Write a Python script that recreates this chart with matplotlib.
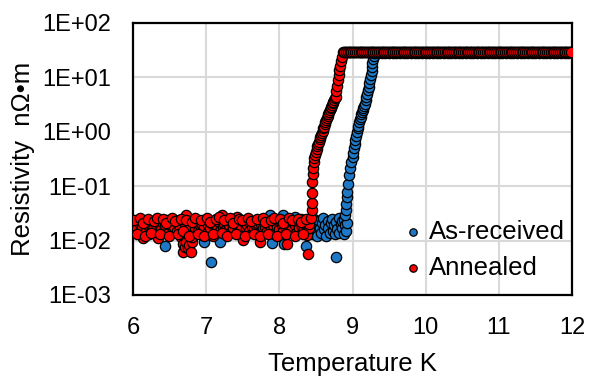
import matplotlib
matplotlib.use("Agg")
import matplotlib.pyplot as plt
from matplotlib.ticker import FixedLocator, FuncFormatter, NullLocator

# ---------------- data ----------------
series_names = ["As-received", "Annealed"]
series_colors = ["#1f78c6", "#ff0000"]

# As-received, low-temperature (superconducting) state
asrec_low_T = [6.00, 6.04, 6.08, 6.12, 6.16, 6.20, 6.24, 6.28, 6.32, 6.36,
               6.40, 6.44, 6.48, 6.52, 6.56, 6.60, 6.64, 6.68, 6.72, 6.76,
               6.80, 6.84, 6.88, 6.92, 6.97, 7.00, 7.06, 7.08, 7.12, 7.16,
               7.19, 7.24, 7.28, 7.32, 7.36, 7.40, 7.44, 7.48, 7.52, 7.56,
               7.60, 7.64, 7.68, 7.72, 7.76, 7.80, 7.84, 7.87, 7.90, 7.94,
               7.98, 8.02, 8.05, 8.07, 8.10, 8.14, 8.18, 8.22, 8.26, 8.30,
               8.34, 8.37, 8.40,
               8.42, 8.43, 8.45, 8.46, 8.48, 8.49, 8.51, 8.52, 8.54, 8.55,
               8.57, 8.58, 8.60, 8.61, 8.63, 8.64, 8.66, 8.67, 8.69, 8.70,
               8.72, 8.73, 8.75, 8.76, 8.77, 8.78, 8.79, 8.81, 8.82, 8.84,
               8.85, 8.86, 8.88, 8.89, 8.90, 8.91, 8.92]
asrec_low_R = [0.018, 0.020, 0.016, 0.019, 0.021, 0.017, 0.019, 0.015, 0.020, 0.018,
               0.021, 0.0079, 0.017, 0.020, 0.016, 0.019, 0.021, 0.018, 0.015, 0.020,
               0.017, 0.019, 0.021, 0.016, 0.0093, 0.019, 0.0041, 0.020, 0.017, 0.019,
               0.0093, 0.021, 0.016, 0.019, 0.022, 0.017, 0.019, 0.021, 0.016, 0.020,
               0.018, 0.021, 0.017, 0.019, 0.022, 0.018, 0.020, 0.029, 0.0091, 0.019,
               0.021, 0.018, 0.029, 0.0085, 0.020, 0.024, 0.019, 0.027, 0.020, 0.025,
               0.018, 0.0079, 0.023,
               0.016, 0.022, 0.013, 0.019, 0.025, 0.015, 0.020, 0.012, 0.023, 0.017,
               0.014, 0.021, 0.026, 0.016, 0.019, 0.012, 0.023, 0.017, 0.014, 0.021,
               0.025, 0.015, 0.019, 0.013, 0.0050, 0.022, 0.016, 0.026, 0.014, 0.020,
               0.017, 0.023, 0.013, 0.024, 0.019, 0.015, 0.021]

# As-received, transition
asrec_tr_T = [8.90, 8.91, 8.91, 8.92, 8.93, 8.94, 8.95, 8.96, 8.98,
              9.00, 9.01, 9.02, 9.03, 9.04, 9.05, 9.06, 9.07, 9.08, 9.09,
              9.10, 9.11, 9.12, 9.13, 9.14, 9.15, 9.16, 9.17, 9.18, 9.19,
              9.20, 9.21, 9.22, 9.23, 9.24, 9.25, 9.26, 9.265, 9.27, 9.28, 9.29]
asrec_tr_R = [0.030, 0.037, 0.048, 0.062, 0.079, 0.11, 0.16, 0.22, 0.28,
              0.34, 0.41, 0.50, 0.60, 0.72, 0.85, 1.0, 1.15, 1.3, 1.5,
              1.7, 1.9, 2.1, 2.3, 2.5, 2.7, 2.95, 3.3, 3.8, 4.4,
              5.0, 5.8, 6.7, 7.9, 9.3, 11.0, 13.0, 15.5, 18.5, 22.0, 25.0]

# As-received, normal state
asrec_norm_T = [9.30, 9.35, 9.40, 9.45, 9.50, 9.55, 9.60, 9.65, 9.70, 9.75,
                9.80, 9.85, 9.90, 9.95, 10.00, 10.05, 10.10, 10.15, 10.20, 10.25,
                10.30, 10.35, 10.40, 10.45, 10.50, 10.55, 10.60, 10.65, 10.70, 10.75,
                10.80, 10.85, 10.90, 10.95, 11.00, 11.05, 11.10, 11.15, 11.20, 11.25,
                11.30, 11.35, 11.40, 11.45, 11.50, 11.55, 11.60, 11.65, 11.70, 11.75,
                11.80, 11.85, 11.90, 11.95, 12.00]
asrec_norm_R = [27.8, 27.7, 27.9, 27.8, 27.6, 28.0, 27.8, 27.7, 27.9, 27.8,
                27.7, 27.9, 27.8, 28.0, 27.6, 27.8, 27.9, 27.7, 27.8, 28.0,
                27.8, 27.7, 27.9, 27.6, 27.8, 28.0, 27.7, 27.8, 27.9, 27.8,
                27.6, 27.9, 27.8, 27.7, 28.0, 27.8, 27.9, 27.7, 27.8, 27.6,
                27.9, 27.8, 27.7, 28.0, 27.8, 27.9, 27.6, 27.8, 27.7, 27.9,
                27.8, 28.0, 27.7, 27.8, 27.5]

# Annealed, low-temperature state (two interleaved sweeps)
ann_low_T1 = [6.00, 6.02, 6.04, 6.06, 6.08, 6.10, 6.12, 6.14, 6.16, 6.18,
              6.20, 6.22, 6.24, 6.26, 6.28, 6.30, 6.32, 6.34, 6.36, 6.38,
              6.40, 6.42, 6.44, 6.46, 6.48, 6.50, 6.52, 6.54, 6.56, 6.58,
              6.60, 6.62, 6.64, 6.66, 6.68, 6.69, 6.70, 6.71, 6.73, 6.73,
              6.75, 6.77, 6.78, 6.79, 6.80, 6.81, 6.83, 6.85, 6.87, 6.89,
              6.91, 6.93, 6.95, 6.97, 6.99, 7.01, 7.03, 7.05, 7.07, 7.09,
              7.11, 7.13, 7.15, 7.17, 7.19, 7.21, 7.23, 7.25, 7.27, 7.29,
              7.31, 7.33, 7.35, 7.37, 7.39, 7.42, 7.44, 7.46, 7.48, 7.50,
              7.52, 7.54, 7.56, 7.58, 7.60, 7.62, 7.64, 7.66, 7.68, 7.70,
              7.72, 7.73, 7.75, 7.77, 7.79, 7.81, 7.83, 7.85, 7.87, 7.89,
              7.91, 7.93, 7.95, 7.97, 7.99, 8.01, 8.03, 8.05, 8.07, 8.09,
              8.11, 8.13, 8.15, 8.17, 8.19, 8.21, 8.23, 8.25, 8.27, 8.29,
              8.31, 8.33, 8.35, 8.37, 8.38, 8.39, 8.40, 8.41]
ann_low_R1 = [0.019, 0.016, 0.021, 0.017, 0.014, 0.020, 0.018, 0.011, 0.022, 0.015,
              0.019, 0.013, 0.021, 0.017, 0.016, 0.023, 0.019, 0.011, 0.020, 0.016,
              0.022, 0.015, 0.019, 0.024, 0.014, 0.019, 0.021, 0.016, 0.018, 0.024,
              0.015, 0.020, 0.017, 0.0115, 0.0085, 0.0063, 0.022, 0.0075, 0.029, 0.0095,
              0.0072, 0.0083, 0.019, 0.0062, 0.0095, 0.0115, 0.021, 0.017, 0.023, 0.015,
              0.019, 0.021, 0.016, 0.018, 0.024, 0.014, 0.019, 0.017, 0.021, 0.012,
              0.020, 0.018, 0.016, 0.022, 0.015, 0.029, 0.018, 0.020, 0.016, 0.022,
              0.019, 0.014, 0.021, 0.017, 0.024, 0.027, 0.016, 0.020, 0.018, 0.0104,
              0.022, 0.017, 0.019, 0.015, 0.021, 0.018, 0.023, 0.016, 0.019, 0.021,
              0.014, 0.0094, 0.020, 0.017, 0.022, 0.018, 0.015, 0.020, 0.023, 0.017,
              0.019, 0.013, 0.021, 0.018, 0.016, 0.022, 0.019, 0.015, 0.020, 0.017,
              0.0085, 0.021, 0.018, 0.016, 0.022, 0.019, 0.014, 0.020, 0.017, 0.021,
              0.018, 0.015, 0.020, 0.022, 0.0126, 0.0056, 0.017, 0.020]
ann_low_T2 = [6.01, 6.05, 6.09, 6.13, 6.17, 6.21, 6.25, 6.29, 6.33, 6.37,
              6.41, 6.45, 6.49, 6.53, 6.57, 6.61, 6.65, 6.69, 6.73, 6.77,
              6.81, 6.85, 6.89, 6.93, 6.97, 7.01, 7.05, 7.09, 7.13, 7.17,
              7.21, 7.25, 7.29, 7.33, 7.37, 7.41, 7.45, 7.49, 7.53, 7.57,
              7.61, 7.65, 7.69, 7.73, 7.77, 7.81, 7.85, 7.89, 7.93, 7.97,
              8.01, 8.05, 8.09, 8.13, 8.17, 8.21, 8.25, 8.29, 8.33, 8.37]
ann_low_R2 = [0.024, 0.013, 0.026, 0.021, 0.012, 0.025, 0.014, 0.023, 0.026, 0.013,
              0.025, 0.021, 0.012, 0.026, 0.023, 0.013, 0.025, 0.015, 0.024, 0.012,
              0.022, 0.026, 0.013, 0.024, 0.012, 0.026, 0.022, 0.013, 0.025, 0.027,
              0.014, 0.024, 0.012, 0.026, 0.021, 0.013, 0.025, 0.024, 0.012, 0.026,
              0.023, 0.013, 0.025, 0.012, 0.026, 0.022, 0.013, 0.024, 0.026, 0.012,
              0.025, 0.021, 0.013, 0.026, 0.024, 0.012, 0.025, 0.022, 0.013, 0.025]

# Annealed, transition
ann_tr_T = [8.43, 8.44, 8.44, 8.44, 8.45, 8.46, 8.46, 8.47, 8.48, 8.49,
            8.50, 8.51, 8.52, 8.53, 8.54, 8.55, 8.56, 8.57, 8.58, 8.59,
            8.60, 8.61, 8.62, 8.63, 8.64, 8.65, 8.66, 8.67, 8.68, 8.69,
            8.70, 8.71, 8.72, 8.73, 8.74, 8.75, 8.76, 8.77, 8.78, 8.79,
            8.80, 8.81, 8.82, 8.83, 8.84, 8.85]
ann_tr_R = [0.026, 0.037, 0.050, 0.075, 0.12, 0.17, 0.22, 0.28, 0.33, 0.38,
            0.43, 0.48, 0.54, 0.60, 0.66, 0.73, 0.80, 0.88, 0.96, 1.05,
            1.15, 1.25, 1.37, 1.50, 1.63, 1.78, 1.95, 2.1, 2.3, 2.5,
            2.7, 2.9, 3.1, 3.35, 3.6, 3.85, 4.1, 4.4, 5.6, 7.0,
            8.8, 11.0, 13.5, 16.5, 20.0, 24.0]

# Annealed, normal state (two interleaved sweeps)
ann_norm_T1 = [8.87, 8.90, 8.92, 8.95, 8.97, 9.00, 9.02, 9.05, 9.07, 9.10,
               9.12, 9.15, 9.17, 9.20, 9.22, 9.25, 9.27, 9.30, 9.32, 9.35,
               9.37, 9.40, 9.42, 9.45, 9.47, 9.50, 9.52, 9.55, 9.57, 9.60,
               9.62, 9.65, 9.67, 9.70, 9.72, 9.75, 9.77, 9.80, 9.82, 9.85,
               9.87, 9.90, 9.92, 9.95, 9.97, 10.00, 10.02, 10.05, 10.07, 10.10,
               10.12, 10.15, 10.17, 10.20, 10.22, 10.25, 10.27, 10.30, 10.32, 10.35,
               10.37, 10.40, 10.42, 10.45, 10.47, 10.50, 10.52, 10.55, 10.57, 10.60,
               10.62, 10.65, 10.67, 10.70, 10.72, 10.75, 10.77, 10.80, 10.82, 10.85,
               10.87, 10.90, 10.92, 10.95, 10.97, 11.00, 11.02, 11.05, 11.07, 11.10,
               11.12, 11.15, 11.17, 11.20, 11.22, 11.25, 11.27, 11.30, 11.32, 11.35,
               11.37, 11.40, 11.42, 11.45, 11.47, 11.50, 11.52, 11.55, 11.57, 11.60,
               11.62, 11.65, 11.67, 11.70, 11.72, 11.75, 11.77, 11.80, 11.82, 11.85,
               11.87, 11.90, 11.92, 11.95, 11.97, 12.00]
ann_norm_R1 = [28.9, 29.1, 28.8, 29.0, 29.2, 28.9, 29.0, 28.8, 29.1, 29.0,
               28.9, 29.2, 29.0, 28.8, 29.1, 28.9, 29.0, 29.2, 28.9, 29.0,
               29.1, 28.8, 29.0, 28.9, 29.2, 29.0, 28.9, 29.1, 28.8, 29.0,
               29.0, 29.1, 28.9, 29.0, 29.2, 28.8, 29.0, 29.1, 28.9, 29.0,
               28.9, 29.0, 29.2, 28.9, 29.1, 29.0, 28.8, 29.0, 29.1, 28.9,
               29.0, 29.2, 28.9, 29.0, 28.8, 29.1, 29.0, 28.9, 29.2, 29.0,
               28.9, 29.1, 29.0, 28.8, 29.0, 29.1, 28.9, 29.2, 29.0, 28.9,
               29.0, 29.1, 28.8, 29.0, 29.2, 28.9, 29.0, 29.1, 28.9, 29.0,
               29.1, 28.9, 29.0, 29.2, 28.8, 29.0, 29.1, 28.9, 29.0, 29.1,
               28.9, 29.0, 29.2, 28.9, 29.0, 28.8, 29.1, 29.0, 28.9, 29.2,
               29.0, 28.9, 29.1, 29.0, 28.8, 29.0, 29.2, 28.9, 29.0, 29.1,
               28.9, 29.0, 29.1, 28.8, 29.0, 29.2, 28.9, 29.0, 29.1, 28.9,
               29.0, 29.1, 28.9, 29.0, 29.2, 29.0]
ann_norm_T2 = [8.88, 8.91, 8.935, 8.96, 8.985, 9.01, 9.035, 9.06, 9.085, 9.11,
               9.135, 9.16, 9.185, 9.21, 9.235, 9.26, 9.285, 9.31, 9.335, 9.36,
               9.385, 9.41, 9.435, 9.46, 9.485, 9.51, 9.535, 9.56, 9.585, 9.61,
               9.635, 9.66, 9.685, 9.71, 9.735, 9.76, 9.785, 9.81, 9.835, 9.86,
               9.885, 9.91, 9.935, 9.96, 9.985, 10.01, 10.035, 10.06, 10.085, 10.11,
               10.135, 10.16, 10.185, 10.21, 10.235, 10.26, 10.285, 10.31, 10.335, 10.36,
               10.385, 10.41, 10.435, 10.46, 10.485, 10.51, 10.535, 10.56, 10.585, 10.61,
               10.635, 10.66, 10.685, 10.71, 10.735, 10.76, 10.785, 10.81, 10.835, 10.86,
               10.885, 10.91, 10.935, 10.96, 10.985, 11.01, 11.035, 11.06, 11.085, 11.11,
               11.135, 11.16, 11.185, 11.21, 11.235, 11.26, 11.285, 11.31, 11.335, 11.36,
               11.385, 11.41, 11.435, 11.46, 11.485, 11.51, 11.535, 11.56, 11.585, 11.61,
               11.635, 11.66, 11.685, 11.71, 11.735, 11.76, 11.785, 11.81, 11.835, 11.86,
               11.885, 11.91, 11.935, 11.96, 11.985]
ann_norm_R2 = [29.0, 28.9, 29.1, 29.0, 28.8, 29.2, 29.0, 28.9, 29.1, 28.9,
               29.0, 29.2, 28.9, 29.0, 29.1, 28.8, 29.0, 28.9, 29.1, 29.0,
               28.9, 29.2, 29.0, 28.9, 29.0, 29.1, 28.8, 29.0, 29.2, 28.9,
               29.1, 29.0, 28.9, 29.0, 29.2, 28.9, 29.0, 29.1, 28.8, 29.0,
               29.0, 28.9, 29.1, 29.0, 28.8, 29.2, 29.0, 28.9, 29.1, 28.9,
               29.0, 29.2, 28.9, 29.0, 29.1, 28.8, 29.0, 28.9, 29.1, 29.0,
               28.9, 29.2, 29.0, 28.9, 29.0, 29.1, 28.8, 29.0, 29.2, 28.9,
               29.1, 29.0, 28.9, 29.0, 29.2, 28.9, 29.0, 29.1, 28.8, 29.0,
               29.0, 28.9, 29.1, 29.0, 28.8, 29.2, 29.0, 28.9, 29.1, 28.9,
               29.0, 29.2, 28.9, 29.0, 29.1, 28.8, 29.0, 28.9, 29.1, 29.0,
               28.9, 29.2, 29.0, 28.9, 29.0, 29.1, 28.8, 29.0, 29.2, 28.9,
               29.1, 29.0, 28.9, 29.0, 29.2, 28.9, 29.0, 29.1, 28.8, 29.0,
               29.0, 28.9, 29.1, 29.0, 29.0]

x_ticks = [6, 7, 8, 9, 10, 11, 12]
y_ticks = [1e-3, 1e-2, 1e-1, 1e0, 1e1, 1e2]
x_label = "Temperature K"
y_label = "Resistivity  nΩ•m"

# ---------------- plot ----------------
plt.rcParams["font.family"] = ["Liberation Sans", "DejaVu Sans"]

fig = plt.figure(figsize=(5.93, 3.78), dpi=100)
ax = fig.add_axes([0.2243, 0.2196, 0.7403, 0.7196])

asrec_T = asrec_low_T + asrec_tr_T + asrec_norm_T
asrec_R = asrec_low_R + asrec_tr_R + asrec_norm_R
ann_T = ann_low_T1 + ann_low_T2 + ann_tr_T + ann_norm_T1 + ann_norm_T2
ann_R = ann_low_R1 + ann_low_R2 + ann_tr_R + ann_norm_R1 + ann_norm_R2

msize = 55
ax.scatter(asrec_T, asrec_R, s=msize, c=series_colors[0], edgecolors="black",
           linewidths=0.9, label=series_names[0], zorder=3)
ax.scatter(ann_T, ann_R, s=msize, c=series_colors[1], edgecolors="black",
           linewidths=0.9, label=series_names[1], zorder=4)

ax.set_yscale("log")
ax.set_xlim(6, 12)
ax.set_ylim(1e-3, 1e2)
ax.xaxis.set_major_locator(FixedLocator(x_ticks))
ax.yaxis.set_major_locator(FixedLocator(y_ticks))
ax.yaxis.set_minor_locator(NullLocator())
ax.xaxis.set_minor_locator(NullLocator())
ax.yaxis.set_major_formatter(FuncFormatter(lambda v, p: "{:.0E}".format(v)))
ax.xaxis.set_major_formatter(FuncFormatter(lambda v, p: "{:d}".format(int(round(v)))))

ax.grid(True, color="#d9d9d9", linewidth=1.5, zorder=0)
ax.set_axisbelow(True)
for sp in ax.spines.values():
    sp.set_linewidth(1.6)
    sp.set_color("black")
ax.tick_params(axis="both", length=0, pad=16, labelsize=17, colors="black")

ax.set_xlabel(x_label, fontsize=18.5, labelpad=9)
ax.set_ylabel(y_label, fontsize=18.5, labelpad=5)

leg = ax.legend(loc="lower right", bbox_to_anchor=(1.02, 0.0), frameon=False,
                fontsize=18.5, handlelength=0.8, handletextpad=0.25,
                labelspacing=0.45, borderaxespad=0.2, markerscale=0.72,
                scatterpoints=1)

fig.savefig("out.png", dpi=100)
